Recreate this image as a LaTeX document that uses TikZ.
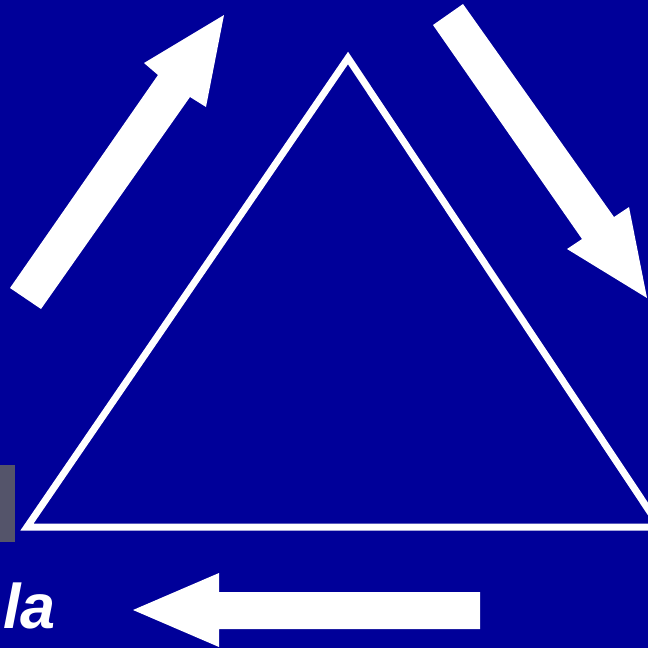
\documentclass[tikz,border=0pt]{standalone}
\usepackage{fontspec}
\setmainfont{Liberation Sans}
\definecolor{bgblue}{RGB}{0,0,153}
\definecolor{barGray}{RGB}{84,84,106}
\begin{document}
\begin{tikzpicture}[x=1pt,y=-1pt,
  bigarrow/.style={fill=white,draw=none},
  tri/.style={draw=white,line width=7pt,line join=miter}]
\fill[bgblue] (0,0) rectangle (648,648);
\useasboundingbox (0,0) rectangle (648,648);
% triangle
\draw[tri] (27,527) -- (348,58) -- (660,527) -- cycle;
% upper-left arrow
\fill[bigarrow] (10,288) -- (158,75) -- (144,63) -- (224,15) -- (206,107) -- (190,97) -- (41,309) -- cycle;
% upper-right arrow
\fill[bigarrow] (463,4) -- (614,217) -- (629,207) -- (647,298) -- (567,249) -- (582,239) -- (433,25) -- cycle;
% bottom arrow
\fill[bigarrow] (480,592) -- (219,592) -- (219,573) -- (133,610) -- (219,647) -- (219,629) -- (480,629) -- cycle;
% gray bar
\fill[barGray] (0,465) rectangle (15,542);
% text
\node[anchor=base west,inner sep=0pt,text=white,font=\fontsize{63}{63}\selectfont\bfseries\itshape] (la) at (3,628) {la};
\end{tikzpicture}
\end{document}
